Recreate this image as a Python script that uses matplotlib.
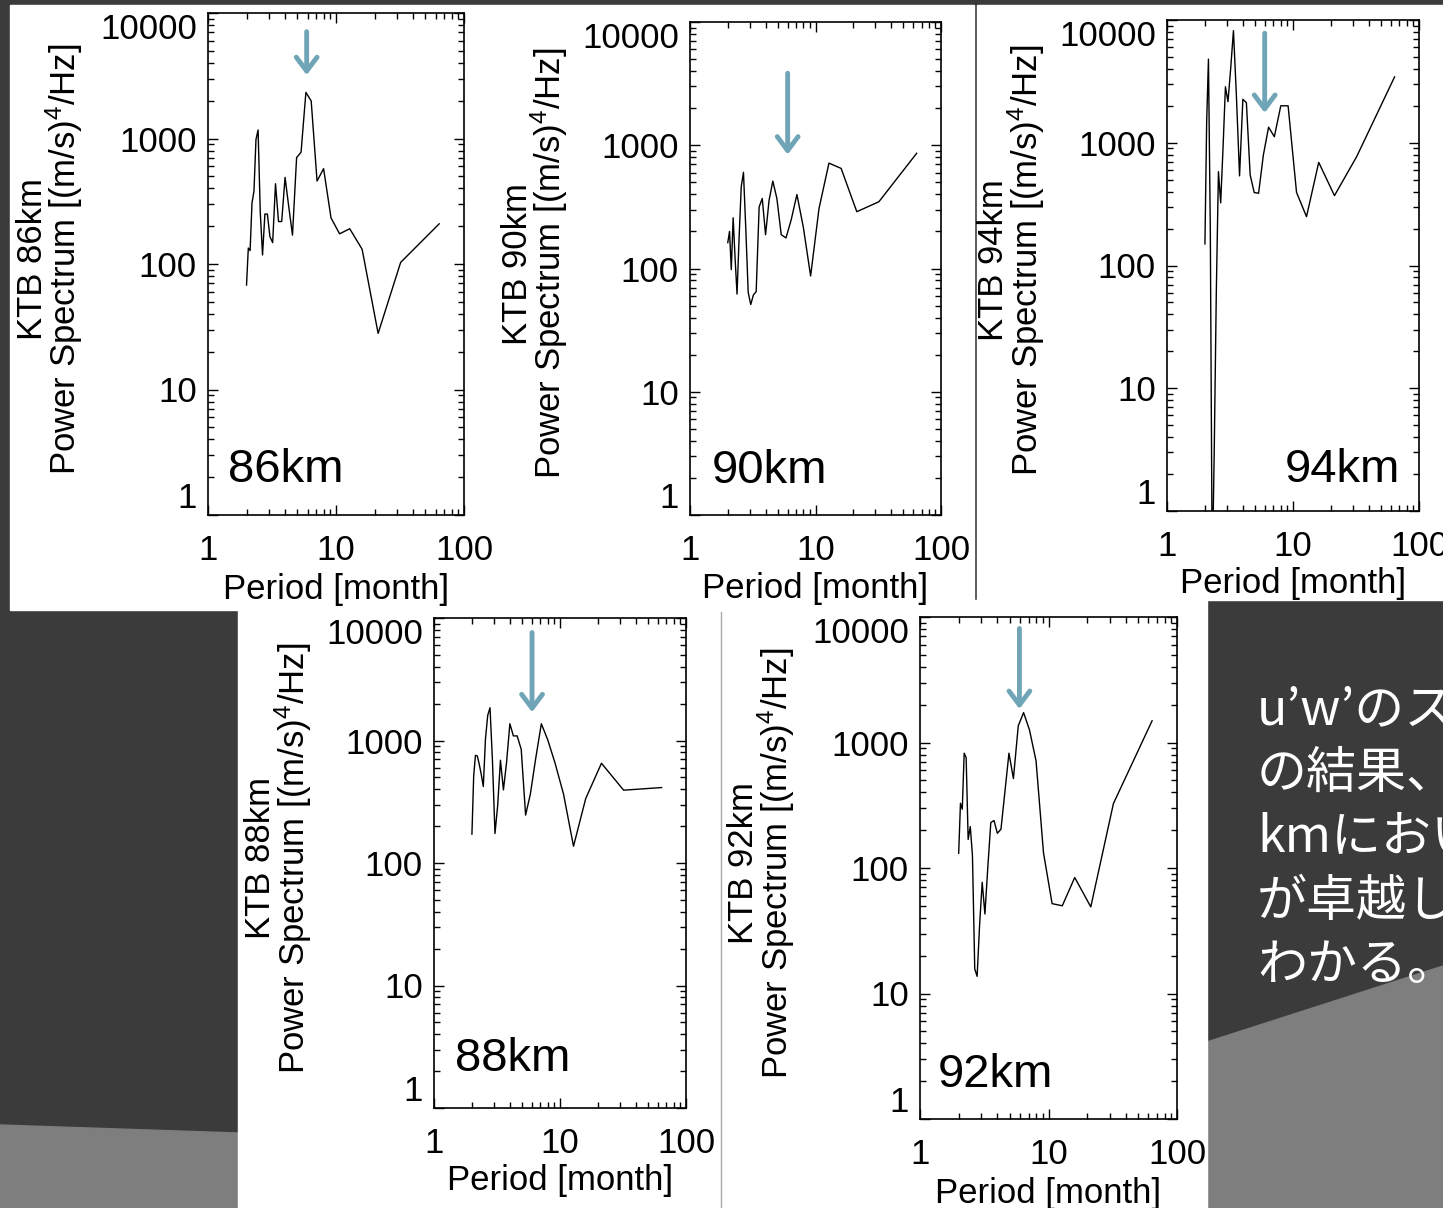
import matplotlib.pyplot as plt
from matplotlib.patches import Rectangle, Polygon
from matplotlib.ticker import NullFormatter

plt.rcParams['font.family'] = ['Liberation Sans', 'DejaVu Sans']
plt.rcParams['mathtext.fontset'] = 'custom'
plt.rcParams['mathtext.rm'] = 'Liberation Sans'
plt.rcParams['mathtext.it'] = 'Liberation Sans:italic'

# period of each spectral point [month]
period = [2.0, 2.065, 2.133, 2.207, 2.286, 2.370, 2.462, 2.560, 2.667, 2.783,
          2.909, 3.048, 3.200, 3.368, 3.556, 3.765, 4.0, 4.267, 4.571, 4.923,
          5.333, 5.818, 6.4, 7.111, 8.0, 9.143, 10.667, 12.8, 16.0, 21.333,
          32.0, 64.0]

power_86 = [68, 134, 128, 307, 380, 980, 1170, 260, 118, 250, 250, 165, 148, 436,
            218, 218, 490, 290, 170, 705, 777, 2330, 1990, 458, 575, 233, 174,
            191, 131, 28, 103, 209]
power_88 = [172, 514, 757, 748, 640, 531, 421, 1020, 1600, 1850, 690, 174, 293,
            690, 395, 660, 1370, 1090, 1090, 847, 246, 365, 703, 1370, 1010, 652,
            365, 137, 336, 652, 393, 413]
power_90 = [162, 200, 98, 258, 122, 62, 178, 460, 603, 211, 64, 51, 61, 65, 316,
            370, 188, 358, 512, 370, 188, 177, 248, 398, 216, 87, 307, 716, 649,
            289, 348, 861]
power_92 = [131, 328, 294, 822, 759, 169, 214, 125, 15.7, 13.7, 35, 77, 43, 100,
            230, 239, 189, 204, 398, 822, 516, 1360, 1730, 1260, 714, 132, 52, 50,
            84, 49, 326, 1490]
power_94 = [150, 1500, 4800, 190, 0.3, 3, 60, 582, 324, 900, 2860, 2160, 4000,
            8190, 2400, 537, 2260, 2120, 547, 393, 388, 794, 1340, 1120, 2000, 2000,
            394, 250, 692, 371, 770, 3440]

heights = ['86km', '90km', '94km', '88km', '92km']
series = [power_86, power_90, power_94, power_88, power_92]

# blue arrows marking the ~6 month peak
arrow_x = [5.9, 6.0, 5.96, 6.0, 5.94]
arrow_top = [7100, 3840, 7800, 7600, 8100]
arrow_tip = [3200, 840, 1750, 1700, 1850]

xticks = [1, 10, 100]
yticks = [1, 10, 100, 1000, 10000]

W, H = 1443, 1208
fig = plt.figure(figsize=(W / 100, H / 100), dpi=100)
fig.patch.set_facecolor('#3b3b3b')

# slide background
bg = fig.add_axes([0, 0, 1, 1], zorder=-1)
bg.set_xlim(0, W)
bg.set_ylim(H, 0)
bg.axis('off')
bg.add_patch(Polygon([(0, 1125), (238, 1133), (238, H), (0, H)], color='#7e7e7e'))
bg.add_patch(Polygon([(1207, 1042), (W, 966), (W, H), (1207, H)], color='#7e7e7e'))
bg.add_patch(Rectangle((10, 5), 964, 605, color='white'))
bg.add_patch(Rectangle((977, 5), W - 977, 595, color='white'))
bg.add_patch(Rectangle((238, 600), 969, H - 600, color='white'))
bg.plot([721, 721], [612, H], color='#aaaaaa', lw=1)

jp_lines = ['u’w’のスペ', 'の結果、', 'kmにおい', 'が卓越し', 'わかる。']
for i, s in enumerate(jp_lines):
    bg.text(1257, 710 + 64 * i, s, color='white', fontsize=36, va='center',
            ha='left', family=['Noto Sans CJK JP', 'DejaVu Sans'])

# panel boxes in pixels: left, right, top, bottom
boxes = [(208, 464, 13, 515), (690, 941, 22, 515), (1167, 1419, 20, 511),
         (434, 686, 618, 1108), (920, 1177, 617, 1119)]
tag_pos = [(0.08, 0.09, 'left'), (0.088, 0.09, 'left'), (0.925, 0.083, 'right'),
           (0.083, 0.10, 'left'), (0.07, 0.088, 'left')]

for k in range(5):
    l, r, t, b = boxes[k]
    ax = fig.add_axes([l / W, 1 - b / H, (r - l) / W, (b - t) / H])
    ax.plot(period, series[k], color='black', lw=1.0)
    ax.set_xscale('log')
    ax.set_yscale('log')
    ax.set_xlim(1, 100)
    ax.set_ylim(1, 10000)
    ax.set_xticks(xticks, [str(v) for v in xticks])
    ax.set_yticks(yticks, [str(v) for v in yticks])
    ax.xaxis.set_minor_formatter(NullFormatter())
    ax.yaxis.set_minor_formatter(NullFormatter())
    ax.tick_params(which='both', direction='in', top=True, right=True, width=1)
    ax.tick_params(which='major', length=7, labelsize=25)
    ax.tick_params(which='minor', length=4)
    ax.tick_params(axis='x', pad=14)
    ax.tick_params(axis='y', pad=8)
    ylabels = ax.get_yticklabels()
    ylabels[0].set_va('bottom')
    ylabels[-1].set_va('top')
    for sp in ax.spines.values():
        sp.set_linewidth(1.2)
    ax.set_xlabel('Period [month]', fontsize=25)
    ax.xaxis.set_label_coords(0.5, -0.115)
    ax.text(-0.615, 0.51, 'KTB ' + heights[k] + '\nPower Spectrum [(m/s)$^4$/Hz]',
            transform=ax.transAxes, rotation=90, ha='center', va='center',
            multialignment='center', linespacing=0.85, fontsize=25)
    tx, ty, ha = tag_pos[k]
    ax.text(tx, ty, heights[k], transform=ax.transAxes, fontsize=34,
            ha=ha, va='center')
    ax.annotate('', xy=(arrow_x[k], arrow_tip[k]), xytext=(arrow_x[k], arrow_top[k]),
                arrowprops=dict(arrowstyle='->,head_length=0.4,head_width=0.3',
                                color='#6fa5b6', lw=3.5, mutation_scale=25,
                                shrinkA=0, shrinkB=0))

fig.savefig('out.png', dpi=100)
